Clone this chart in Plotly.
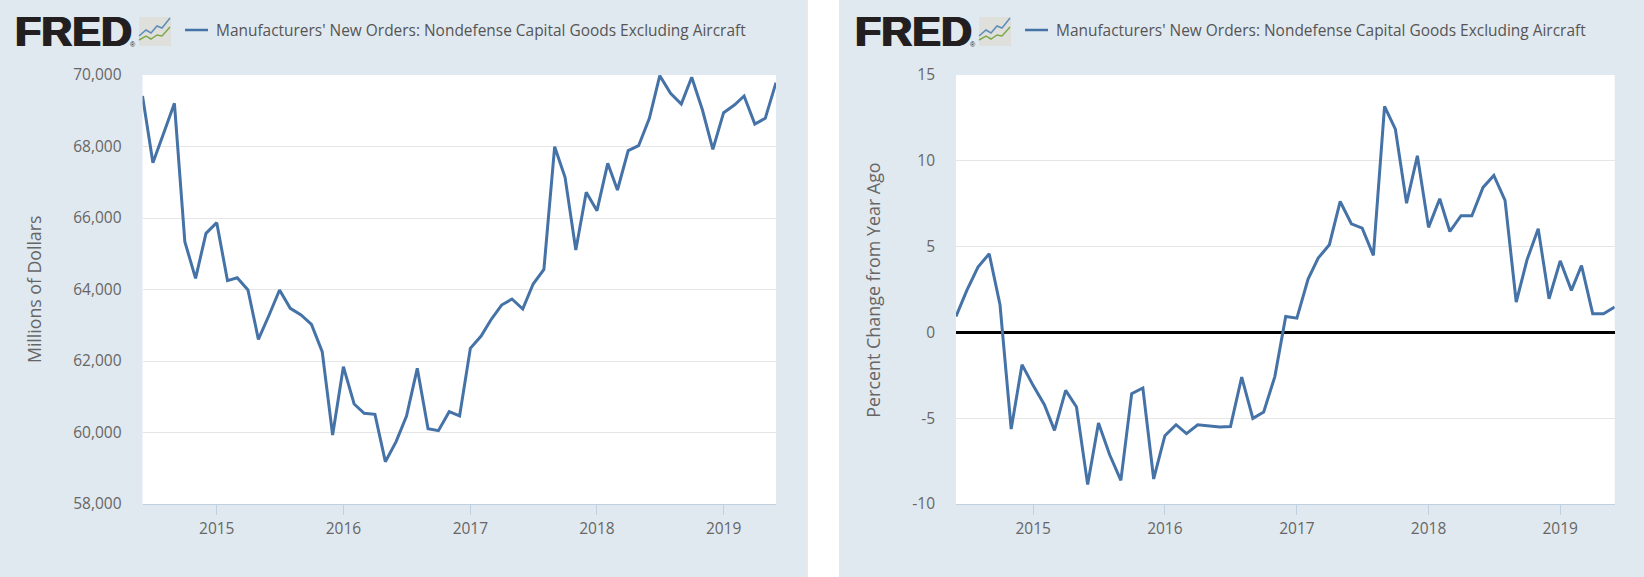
import plotly.graph_objects as go
import pandas as pd

W, H = 1644, 577

months = pd.date_range("2014-06-01", "2019-06-01", freq="MS").strftime("%Y-%m-%d").tolist()

orders = [69413, 67548, 68368, 69207, 65338, 64312, 65571, 65870, 64247, 64330, 63986, 62606,
          63287, 63986, 63473, 63287, 63025, 62261, 59930, 61842, 60797, 60536, 60508, 59184,
          59744, 60462, 61795, 60107, 60051, 60583, 60462, 62354, 62699, 63147, 63566, 63734,
          63454, 64154, 64564, 67995, 67137, 65105, 66718, 66205, 67529, 66783, 67883, 68023,
          68788, 69981, 69487, 69189, 69935, 69021, 67921, 68946, 69161, 69413, 68629, 68788,
          69786]

yoy = [0.93, 2.45, 3.81, 4.58, 1.61, -5.63, -1.88, -3.10, -4.21, -5.71, -3.38, -4.35,
       -8.87, -5.28, -7.13, -8.62, -3.57, -3.24, -8.54, -6.02, -5.38, -5.90, -5.38, -5.44,
       -5.51, -5.48, -2.60, -5.01, -4.64, -2.56, 0.93, 0.83, 3.11, 4.33, 5.11, 7.63,
       6.33, 6.08, 4.49, 13.17, 11.84, 7.53, 10.29, 6.12, 7.79, 5.88, 6.80, 6.80,
       8.45, 9.15, 7.69, 1.77, 4.23, 6.04, 1.96, 4.17, 2.45, 3.90, 1.09, 1.09,
       1.48]

year_ticks = ["2015-01-01", "2016-01-01", "2017-01-01", "2018-01-01", "2019-01-01"]
year_labels = ["2015", "2016", "2017", "2018", "2019"]
left_ticks = [58000, 60000, 62000, 64000, 66000, 68000, 70000]
left_labels = ["58,000", "60,000", "62,000", "64,000", "66,000", "68,000", "70,000"]
right_ticks = [-10, -5, 0, 5, 10, 15]
right_labels = ["-10", "-5", "0", "5", "10", "15"]

series_name = "Manufacturers' New Orders: Nondefense Capital Goods Excluding Aircraft"
left_title = "Millions of Dollars"
right_title = "Percent Change from Year Ago"

BG = "#e1e9f0"
LINE = "#4572a7"
GRID = "#e6e6e6"
AXIS = "#c0d0e0"
TEXT = "#666666"
FONT = "Open Sans"


def fx(p):
    return p / W


def fy(p):
    return 1 - p / H


fig = go.Figure()
fig.add_trace(go.Scatter(x=months, y=orders, mode="lines", name=series_name, showlegend=False,
                         line=dict(color=LINE, width=3), xaxis="x", yaxis="y"))
fig.add_trace(go.Scatter(x=months, y=yoy, mode="lines", name=series_name, showlegend=False,
                         line=dict(color=LINE, width=3), xaxis="x2", yaxis="y2"))

xcommon = dict(type="date", range=[months[0], months[-1]], tickmode="array", tickvals=year_ticks,
               ticktext=year_labels, ticks="outside", ticklen=10, tickwidth=1, tickcolor=AXIS,
               showline=True, linecolor=AXIS, linewidth=1, showgrid=False, zeroline=False,
               automargin=False, tickfont=dict(family=FONT, size=15.5, color=TEXT), fixedrange=True)
ycommon = dict(showgrid=True, gridcolor=GRID, gridwidth=1, ticks="", showline=False, automargin=False,
               tickmode="array", tickfont=dict(family=FONT, size=15.5, color=TEXT),
               ticklabelstandoff=20, fixedrange=True)

shapes = [
    dict(type="rect", xref="paper", yref="paper", x0=fx(806), x1=fx(839), y0=0, y1=1,
         fillcolor="white", line_width=0, layer="below"),
    dict(type="rect", xref="paper", yref="paper", x0=fx(806.5), x1=fx(807.5), y0=0, y1=1,
         fillcolor="#d4d4d4", line_width=0, layer="below"),
]
annotations = []


def icon_path(off, pts):
    return " ".join(("M" if i == 0 else "L") + f" {fx(off + a):.5f} {fy(b):.5f}" for i, (a, b) in enumerate(pts))


for off in (0, 840):
    shapes.append(dict(type="line", xref="paper", yref="paper", x0=fx(off + 185), x1=fx(off + 208),
                       y0=fy(30), y1=fy(30), line=dict(color=LINE, width=2.5)))
    shapes.append(dict(type="rect", xref="paper", yref="paper", x0=fx(off + 139), x1=fx(off + 171),
                       y0=fy(46), y1=fy(17), fillcolor="#dfe0dc", line_width=0))
    shapes.append(dict(type="path", xref="paper", yref="paper", line=dict(color="#5b8db8", width=1.5),
                       path=icon_path(off, [(139, 36), (146, 30), (151, 33), (157, 26), (162, 28), (170, 18)])))
    shapes.append(dict(type="path", xref="paper", yref="paper", line=dict(color="#7fa84a", width=1.5),
                       path=icon_path(off, [(139, 40), (146, 36), (151, 39), (157, 35), (162, 36), (170, 27)])))
    annotations.append(dict(text="<b>FRED</b>", xref="paper", yref="paper", x=fx(off + 13), y=fy(31),
                            xanchor="left", yanchor="middle", showarrow=False,
                            font=dict(family="Liberation Sans", size=43, color="#231f20",
                                      shadow="1px 0 #231f20, -1px 0 #231f20")))
    annotations.append(dict(text="®", xref="paper", yref="paper", x=fx(off + 133), y=fy(44),
                            xanchor="center", yanchor="middle", showarrow=False,
                            font=dict(family="Liberation Sans", size=7, color="#231f20")))
    annotations.append(dict(text=series_name, xref="paper", yref="paper", x=fx(off + 214), y=fy(30),
                            xanchor="left", yanchor="middle", showarrow=False,
                            font=dict(family=FONT, size=15.45, color="#555555")))

annotations.append(dict(text=left_title, xref="paper", yref="paper", x=fx(34), y=fy(290),
                        xanchor="center", yanchor="middle", textangle=-90, showarrow=False,
                        font=dict(family=FONT, size=17.7, color=TEXT)))
annotations.append(dict(text=right_title, xref="paper", yref="paper", x=fx(872.7), y=fy(290),
                        xanchor="center", yanchor="middle", textangle=-90, showarrow=False,
                        font=dict(family=FONT, size=17.9, color=TEXT)))

fig.update_layout(
    template="none",
    width=W, height=H, autosize=False,
    margin=dict(l=0, r=0, t=0, b=0),
    paper_bgcolor=BG, plot_bgcolor="white",
    showlegend=False, shapes=shapes, annotations=annotations,
    xaxis=dict(domain=[fx(142.5), fx(776)], anchor="y", **xcommon),
    yaxis=dict(domain=[fy(504), fy(75)], anchor="x", range=[58000, 70000], tickvals=left_ticks,
               ticktext=left_labels, zeroline=False, **ycommon),
    xaxis2=dict(domain=[fx(956), fx(1614.7)], anchor="y2", **xcommon),
    yaxis2=dict(domain=[fy(504), fy(75)], anchor="x2", range=[-10, 15], tickvals=right_ticks,
                ticktext=right_labels, zeroline=True, zerolinecolor="black", zerolinewidth=2.5, **ycommon),
)

fig.write_html("out.html", config={"displayModeBar": False},
               post_script="document.body.style.margin='0';document.body.style.overflow='hidden';")
